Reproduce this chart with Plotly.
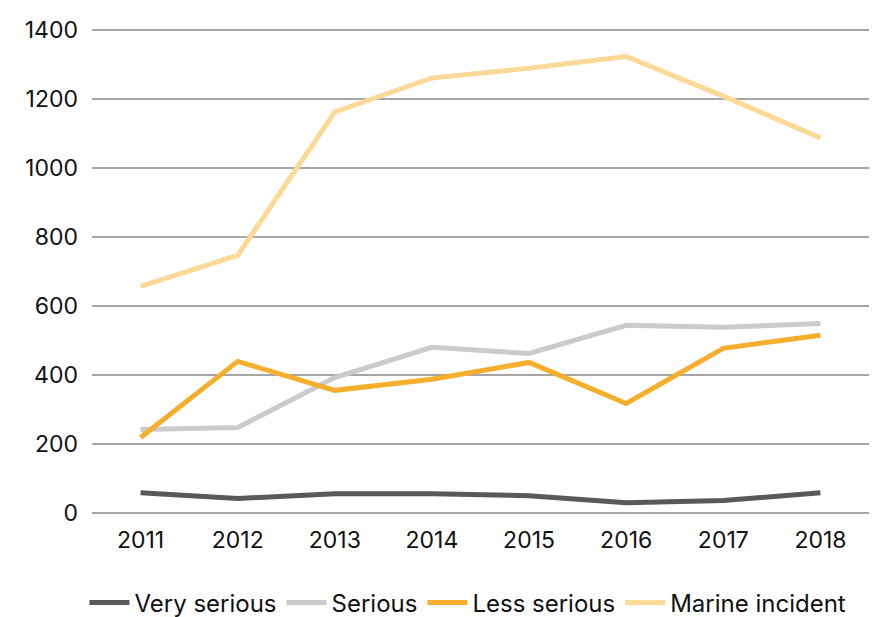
import plotly.graph_objects as go

years = ["2011", "2012", "2013", "2014", "2015", "2016", "2017", "2018"]
very_serious = [58, 41, 55, 55, 49, 29, 35, 58]
serious = [241, 247, 392, 480, 462, 544, 538, 549]
less_serious = [218, 439, 355, 387, 436, 317, 477, 515]
marine_incident = [657, 747, 1163, 1262, 1290, 1324, 1209, 1088]
y_ticks = [0, 200, 400, 600, 800, 1000, 1200, 1400]

series = [
    ("Very serious", very_serious, "#595959"),
    ("Serious", serious, "#cbcbcb"),
    ("Less serious", less_serious, "#f6ae2d"),
    ("Marine incident", marine_incident, "#fdd997"),
]

fig = go.Figure()
for name, vals, color in series:
    fig.add_trace(go.Scatter(x=years, y=vals, name=name, mode="lines",
                             line=dict(color=color, width=5)))

fig.update_layout(
    width=893, height=617,
    margin=dict(l=84, r=32, t=21, b=111),
    plot_bgcolor="white", paper_bgcolor="white",
    font=dict(family="Inter, Roboto, sans-serif", size=23, color="#111111"),
    showlegend=True,
    legend=dict(orientation="h", xref="container", x=0.515, xanchor="center",
                yref="container", y=0.036, yanchor="middle",
                font=dict(size=24), itemwidth=40, tracegroupgap=0),
)
fig.update_xaxes(type="category", range=[-0.5, 7.5], showgrid=False, zeroline=False,
                 showline=False, ticks="", ticklabelstandoff=10, automargin=False)
fig.update_yaxes(range=[-4, 1404], tickvals=y_ticks, showgrid=True, gridcolor="#a6a6a6",
                 gridwidth=1.5, zeroline=False, showline=False, ticks="",
                 ticklabelstandoff=13, automargin=False)

fig.write_html("out.html")
